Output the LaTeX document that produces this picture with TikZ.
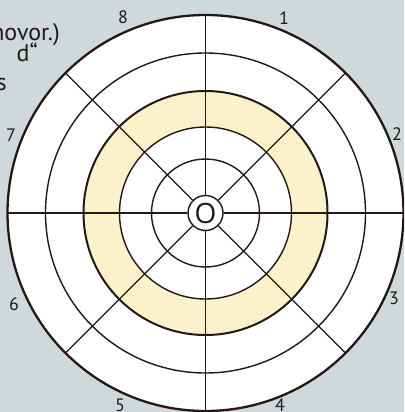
\documentclass[tikz,border=0pt]{standalone}
\usepackage{fontspec}
\usetikzlibrary{calc}
\setmainfont{PT Sans}
\newfontfamily\ofont{Open Sans}
\definecolor{bgc}{HTML}{CFD8DB}
\definecolor{yel}{HTML}{FBF2CB}
\definecolor{ink}{HTML}{231815}
\tikzset{
  ring/.style={draw=ink, line width=1.4pt},
  thickring/.style={draw=ink, line width=2pt},
  outerring/.style={draw=ink, line width=2.3pt},
  spoke/.style={draw=ink, line width=1.4pt},
  num/.style={text=ink, font=\fontsize{18}{20}\selectfont, inner sep=0pt},
  side/.style={text=ink, font=\fontsize{24}{26}\selectfont, inner sep=0pt, anchor=base east},
}
\begin{document}
\begin{tikzpicture}[x=1pt,y=-1pt]
\useasboundingbox (0,0) rectangle (404,412);
\clip (0,0) rectangle (404,412);
\fill[bgc] (0,0) rectangle (404,412);
\coordinate (c) at (205.5,213);
% side text, clipped at the left edge
\node[side] (t1) at (60,40.5) {hovor.)};
\node[side] (t2) at (38,62) {d“};
\node[side] (t3) at (7,90.5) {s};
% target
\fill[white] (c) circle[radius=198pt];
\fill[yel, even odd rule] (c) circle[radius=122pt] (c) circle[radius=86pt];
\draw[ring] (c) circle[radius=160pt];
\draw[ring] (c) circle[radius=54pt];
\draw[thickring] (c) circle[radius=122pt];
\draw[ring] (c) circle[radius=86pt];
\node[circle, draw=ink, line width=1.4pt, fill=white, minimum size=35pt, inner sep=0pt] (o) at (c) {};
\node[text=ink, font=\ofont\fontsize{28}{30}\selectfont, inner sep=0pt] (ol) at (o.center) {O};
\foreach \a in {0,45,...,315}{
  \coordinate (e\a) at ($(c)+(\a:198pt)$);
  \draw[spoke] (o.\a) -- (e\a);
}
\draw[outerring] (c) circle[radius=198pt];
% sector numbers
\node[num] (n1) at (284,18) {1};
\node[num] (n2) at (397,134) {2};
\node[num] (n3) at (394,298) {3};
\node[num] (n4) at (280,405) {4};
\node[num] (n5) at (120,405) {5};
\node[num] (n6) at (14,304) {6};
\node[num] (n7) at (11,135) {7};
\node[num] (n8) at (123,17) {8};
\end{tikzpicture}
\end{document}
